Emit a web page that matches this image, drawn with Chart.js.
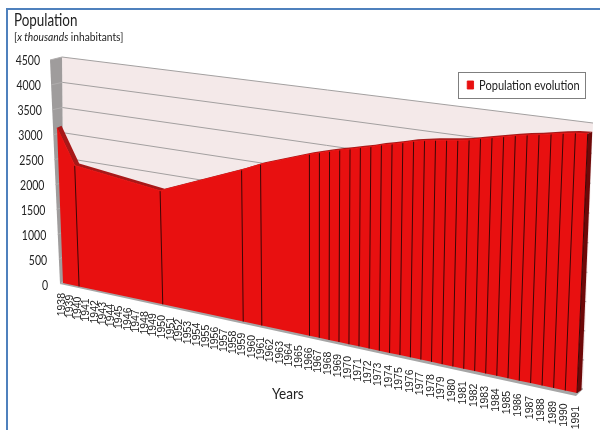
<!DOCTYPE html>
<html>
<head>
<meta charset="utf-8">
<title>Population evolution</title>
<script src="https://cdn.jsdelivr.net/npm/chart.js@4/dist/chart.umd.min.js"></script>
<style>
  html, body { margin: 0; padding: 0; background: #fff; }
  #frame { position: relative; width: 600px; height: 430px; overflow: hidden; font-family: Lato, sans-serif; color: #222; }
  #frame canvas { position: absolute; left: 0; top: 0; }
  .edge { position: absolute; background: #4f81bd; }
  .caption { position: absolute; white-space: nowrap; transform-origin: 0 0; }
</style>
</head>
<body>
<div id="frame">
  <canvas id="populationChart" width="600" height="430"></canvas>
  <div class="edge" style="left:6px;top:8px;width:594px;height:2px"></div>
  <div class="edge" style="left:6px;top:8px;width:2px;height:422px"></div>
  <div class="caption" style="left:14px;top:9px;font-size:17px;transform:scaleX(.79)">Population</div>
  <div class="caption" style="left:14px;top:30px;font-size:11px;transform:scaleX(.93)">[<i>x thousands</i> inhabitants]</div>
  <div class="caption" style="left:272px;top:383px;font-size:16px;transform:scaleX(.85)">Years</div>
</div>
<script>
const years = [
  '1938', '1939', '1940', '1941', '1942', '1943', '1944', '1945', '1946', '1947',
  '1948', '1949', '1950', '1951', '1952', '1953', '1954', '1955', '1956', '1957',
  '1958', '1959', '1960', '1961', '1962', '1963', '1964', '1965', '1966', '1967',
  '1968', '1969', '1970', '1971', '1972', '1973', '1974', '1975', '1976', '1977',
  '1978', '1979', '1980', '1981', '1982', '1983', '1984', '1985', '1986', '1987',
  '1988', '1989', '1990', '1991'
];
// null = no census that year, the line spans over it
const population = [
  3190, null, 2484, null, null, null, null, null, null, null,
  null, null, 2263, null, null, null, null, null, null, null,
  null, 2917, null, 3078, null, null, null, null, 3395, 3451,
  3502, 3552, 3596, 3646, 3689, 3744, 3788, 3836, 3886, 3922,
  3954, 3979, 4004, 4035, 4083, 4125, 4167, 4209, 4245, 4275,
  4312, 4348, 4378, 4392
];
const yTickValues = [0, 500, 1000, 1500, 2000, 2500, 3000, 3500, 4000, 4500];
const seriesName = 'Population evolution';

// corners of each plane on the page: bottom-left, bottom-right, top-right, top-left
const frontPlane = [[63, 283], [577, 393], [588, 127], [54.5, 62]];
const backWall = [[64, 281], [583, 389], [593, 123], [62, 57]];
const depthShift = [4.5, -2];
const legendBox = { left: 458, top: 72, right: 585, bottom: 98 };

const RED = '#e81010';
const TICK_SQUEEZE = 0.75;
const LEGEND_SQUEEZE = 0.79;

// unit square -> quadrilateral
function makeHomography(q) {
  const [[x0, y0], [x1, y1], [x2, y2], [x3, y3]] = q;
  const sx = x0 - x1 + x2 - x3;
  const sy = y0 - y1 + y2 - y3;
  const dx1 = x1 - x2, dx2 = x3 - x2, dy1 = y1 - y2, dy2 = y3 - y2;
  const det = dx1 * dy2 - dx2 * dy1;
  const g = (sx * dy2 - dx2 * sy) / det;
  const h = (dx1 * sy - sx * dy1) / det;
  const a = x1 - x0 + g * x1, b = x3 - x0 + h * x3;
  const d = y1 - y0 + g * y1, e = y3 - y0 + h * y3;
  return (u, v) => {
    const w = g * u + h * v + 1;
    return [(a * u + b * v + x0) / w, (d * u + e * v + y0) / w];
  };
}
const toFront = makeHomography(frontPlane);
const toBack = makeHomography(backWall);

// chart pixel -> position on the front plane
function frontPoint(chart, px, py) {
  const area = chart.chartArea;
  return toFront((px - area.left) / area.width, (area.bottom - py) / area.height);
}

// the scales take no room and place their labels along the tilted axes
class TiltedCategoryScale extends Chart.CategoryScale {
  _computeLabelArea() {}
  _computeLabelItems(chartArea) {
    const items = super._computeLabelItems(chartArea);
    const count = items.length - 1;
    items.forEach((item, i) => {
      const [x, y] = frontPoint(this.chart, this.getPixelForTick(i), this.bottom);
      item.options.translation = [x - 7, y + 10 + 3 * i / count];
    });
    return items;
  }
}
TiltedCategoryScale.id = 'tiltedCategory';
TiltedCategoryScale.defaults = Chart.CategoryScale.defaults;

class TiltedLinearScale extends Chart.LinearScale {
  _computeLabelArea() {}
  _computeLabelItems(chartArea) {
    const items = super._computeLabelItems(chartArea);
    items.forEach((item, i) => {
      const v = (this.bottom - this.getPixelForTick(i)) / this.height;
      item.options.translation = [(48 - 8 * v) / TICK_SQUEEZE, 285 - 225 * v];
    });
    return items;
  }
  // narrow figures, no condensed face is available
  drawLabels(chartArea) {
    const ctx = this.ctx;
    ctx.save();
    ctx.scale(TICK_SQUEEZE, 1);
    super.drawLabels(chartArea);
    ctx.restore();
  }
}
TiltedLinearScale.id = 'tiltedLinear';
TiltedLinearScale.defaults = Chart.LinearScale.defaults;

Chart.register(TiltedCategoryScale, TiltedLinearScale);

function polygon(ctx, pts, fill) {
  ctx.beginPath();
  pts.forEach((p, i) => (i ? ctx.lineTo(p[0], p[1]) : ctx.moveTo(p[0], p[1])));
  ctx.closePath();
  ctx.fillStyle = fill;
  ctx.fill();
}

function segment(ctx, p, q, color, width) {
  ctx.beginPath();
  ctx.moveTo(p[0], p[1]);
  ctx.lineTo(q[0], q[1]);
  ctx.strokeStyle = color;
  ctx.lineWidth = width;
  ctx.stroke();
}

const tiltPlugin = {
  id: 'tilt',
  // moves the line's points from the flat scales onto the front plane
  afterDatasetsUpdate(chart) {
    const meta = chart.getDatasetMeta(0);
    meta.data.forEach((pt) => {
      if (pt.skip) return;
      const [x, y] = frontPoint(chart, pt.x, pt.y);
      pt.x = x;
      pt.y = y;
    });
  },
  afterLayout(chart) {
    const legend = chart.legend;
    const inset = 4.5;
    legend.left = legendBox.left;
    legend.top = legendBox.top;
    legend.right = legendBox.left + (legendBox.right - legendBox.left) / LEGEND_SQUEEZE;
    legend.bottom = legendBox.bottom;
    if (!legend.squeezed) {
      const draw = legend.draw.bind(legend);
      legend.draw = () => {
        const ctx = chart.ctx;
        ctx.save();
        ctx.translate(legendBox.left + inset, 0);
        ctx.scale(LEGEND_SQUEEZE, 1);
        ctx.translate(-legendBox.left, 0);
        draw();
        ctx.restore();
      };
      legend.squeezed = true;
    }
  },
  beforeDatasetsDraw(chart) {
    const { ctx, scales } = chart;
    const yScale = scales.y;
    const area = chart.chartArea;
    const top = chart.getDatasetMeta(0).data.filter((pt) => !pt.skip).map((pt) => [pt.x, pt.y]);
    const baseY = yScale.getPixelForValue(0);
    const bottom = chart.getDatasetMeta(0).data
      .map((pt, i) => (population[i] === null ? null : frontPoint(chart, scales.x.getPixelForValue(i), baseY)))
      .filter(Boolean);
    const last = top.length - 1;

    ctx.save();
    // back wall with its grid
    polygon(ctx, backWall, '#f4e9e9');
    // side wall and floor
    polygon(ctx, [[50, 60], backWall[3], backWall[0], [60, 284]], '#9f9c9c');
    polygon(ctx, [[60, 284], backWall[0], backWall[1], [576, 396]], '#a6a6a6');

    yScale.ticks.forEach((tick) => {
      const v = (area.bottom - yScale.getPixelForValue(tick.value)) / area.height;
      segment(ctx, toBack(0, v), toBack(1, v), '#a3a0a0', 1);
      const onEdge = [50 + 10 * (1 - v), 60 + 224 * (1 - v)];
      segment(ctx, onEdge, toBack(0, v), '#b0adad', 1);
    });

    // thickness of the area: top band and right end
    const shifted = top.map((p) => [p[0] + depthShift[0], p[1] + depthShift[1]]);
    polygon(ctx, [...top, ...shifted.slice().reverse()], '#a81818');
    polygon(ctx, [top[last], shifted[last],
      [bottom[last][0] + depthShift[0], bottom[last][1] + depthShift[1] - 1], bottom[last]], '#6e0808');

    // front face
    polygon(ctx, [...top, ...bottom.slice().reverse()], RED);

    // one divider per census year
    top.forEach((p, i) => {
      if (i > 0) segment(ctx, p, bottom[i], '#3c0606', 1);
    });
    ctx.restore();
  },
  afterDraw(chart) {
    const { ctx } = chart;
    ctx.save();
    ctx.strokeStyle = '#7f7f7f';
    ctx.lineWidth = 1;
    ctx.strokeRect(legendBox.left + 0.5, legendBox.top + 0.5,
      legendBox.right - legendBox.left, legendBox.bottom - legendBox.top);
    ctx.restore();
  }
};

new Chart(document.getElementById('populationChart'), {
  type: 'line',
  data: {
    labels: years,
    datasets: [{
      label: seriesName,
      data: population,
      spanGaps: true,
      borderColor: RED,
      backgroundColor: RED,
      borderWidth: 1,
      pointRadius: 0,
      tension: 0,
      clip: false
    }]
  },
  options: {
    responsive: false,
    animation: false,
    events: [],
    layout: { padding: 0 },
    plugins: {
      title: { display: false },
      tooltip: { enabled: false },
      legend: {
        position: 'chartArea',
        align: 'start',
        labels: {
          boxWidth: 8,
          boxHeight: 8,
          padding: 6,
          color: '#222',
          font: { family: 'Lato, sans-serif', size: 14 }
        }
      }
    },
    scales: {
      x: {
        type: 'tiltedCategory',
        afterFit(scale) { scale.height = 0; },
        grid: { display: false },
        border: { display: false },
        ticks: {
          autoSkip: false,
          minRotation: 90,
          maxRotation: 90,
          padding: 0,
          color: '#222',
          font: { family: '"Liberation Sans", sans-serif', size: 10.5 }
        }
      },
      y: {
        type: 'tiltedLinear',
        min: 0,
        max: 4500,
        afterBuildTicks(scale) { scale.ticks = yTickValues.map((value) => ({ value })); },
        afterFit(scale) { scale.width = 0; },
        grid: { display: false },
        border: { display: false },
        ticks: {
          callback: (value) => String(value),
          color: '#222',
          font: { family: 'Lato, sans-serif', size: 14 }
        }
      }
    }
  },
  plugins: [tiltPlugin]
});
</script>
</body>
</html>
